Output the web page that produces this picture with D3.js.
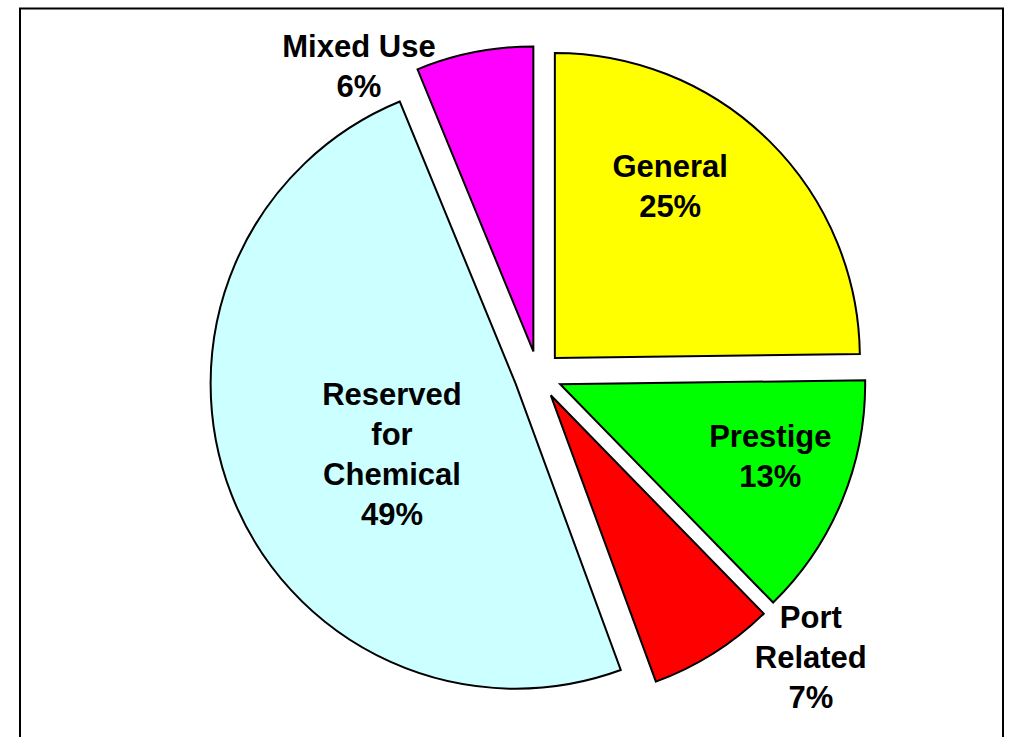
<!DOCTYPE html>
<html>
<head>
<meta charset="utf-8">
<script src="https://cdn.jsdelivr.net/npm/d3@7"></script>
<style>
  html, body { margin: 0; padding: 0; background: #fff; }
  svg { display: block; }
</style>
</head>
<body>
<div id="chart"></div>
<script>
// Land use shares (percent), clockwise from 12 o'clock
const categories = ["General", "Prestige", "Port Related", "Reserved for Chemical", "Mixed Use"];
const values = [24.8, 12.9, 6.7, 49.4, 6.2];
// label text split into lines as in the original
const labelLines = [["General"], ["Prestige"], ["Port", "Related"], ["Reserved", "for", "Chemical"], ["Mixed Use"]];
const colors = ["#ffff00", "#00ff00", "#ff0000", "#ccffff", "#ff00ff"];

// label placement: angle (deg, clockwise from top) and distance from pie centre
const labelLayout = [
    { angle: 34.9, r: 231 },
    { angle: 109.2, r: 246 },
    { angle: 135.9, r: 392 },
    { angle: 241.6, r: 166 },
    { angle: 329.9, r: 357 }
];

const width = 1009, height = 737;
const cx = 538, cy = 375;
const radius = 305;
const explode = 24;
const lineHeight = 40;

const svg = d3.select("#chart").append("svg")
    .attr("width", width)
    .attr("height", height);

// chart frame
svg.append("rect")
    .attr("x", 20)
    .attr("y", 8.5)
    .attr("width", 983)
    .attr("height", 800)
    .attr("fill", "#fff")
    .attr("stroke", "#000")
    .attr("stroke-width", 2);

const data = categories.map((c, i) => ({ name: c, value: values[i], lines: labelLines[i], color: colors[i] }));

const pie = d3.pie()
    .sort(null)
    .value(d => d.value);

const arc = d3.arc()
    .innerRadius(0)
    .outerRadius(radius);

const g = svg.append("g")
    .attr("transform", `translate(${cx},${cy})`);

const arcs = pie(data);

g.selectAll("path.slice")
    .data(arcs)
    .enter()
    .append("path")
    .attr("class", "slice")
    .attr("d", arc)
    .attr("transform", d => {
        const mid = (d.startAngle + d.endAngle) / 2;
        return `translate(${explode * Math.sin(mid)},${-explode * Math.cos(mid)})`;
    })
    .attr("fill", d => d.data.color)
    .attr("stroke", "#000")
    .attr("stroke-width", 2)
    .attr("stroke-linejoin", "miter");

// labels: name lines + rounded percentage
const labels = g.selectAll("text.label")
    .data(arcs)
    .enter()
    .append("text")
    .attr("class", "label")
    .attr("text-anchor", "middle")
    .attr("font-family", "'Liberation Sans', Arial, sans-serif")
    .attr("font-size", "31px")
    .attr("font-weight", "bold")
    .attr("fill", "#000");

labels.each(function (d, i) {
    const lay = labelLayout[i];
    const a = lay.angle * Math.PI / 180;
    const x = lay.r * Math.sin(a);
    const y = -lay.r * Math.cos(a);
    const lines = d.data.lines.concat([Math.round(d.data.value) + "%"]);
    const n = lines.length;
    d3.select(this).selectAll("tspan")
        .data(lines)
        .enter()
        .append("tspan")
        .attr("x", x)
        .attr("y", (t, j) => y + (j - (n - 1) / 2) * lineHeight + 11)
        .text(t => t);
});
</script>
</body>
</html>
